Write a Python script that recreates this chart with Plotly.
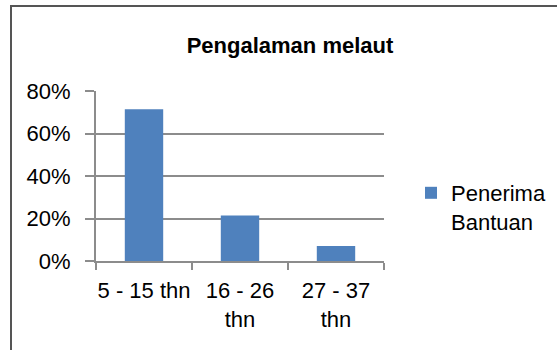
import plotly.graph_objects as go

categories = ["5 - 15 thn", "16 - 26<br>thn", "27 - 37<br>thn"]
values = [0.714, 0.214, 0.071]
series_name = "Penerima<br>Bantuan"
title_text = "Pengalaman melaut"
y_ticks = [0, 0.2, 0.4, 0.6, 0.8]

FONT = "Liberation Sans Narrow, Arial Narrow, Liberation Sans, Arial, sans-serif"
GRID = "#8c8c8c"
FS = 22

fig = go.Figure()
fig.add_trace(go.Bar(
    x=categories, y=values, name=series_name,
    marker=dict(color="#4f81bd", line=dict(width=0)),
    showlegend=True,
))

W, H = 557, 350
L, R, T, B = 96, 173, 91, 89
pw, ph = W - L - R, H - T - B

def px2x(px):
    return (px - L) / pw

def py2y(py):
    return (H - B - py) / ph

fig.update_layout(
    width=W, height=H,
    margin=dict(l=L, r=R, t=T, b=B, autoexpand=False),
    paper_bgcolor="white", plot_bgcolor="white",
    font=dict(family=FONT, size=FS, color="black"),
    bargap=0.6,
    title=dict(text="<b>" + title_text + "</b>", xref="container", yref="container",
               x=290 / W, y=1 - 45 / H, xanchor="center", yanchor="middle",
               font=dict(family=FONT, size=22, color="black")),
    showlegend=True,
    legend=dict(x=px2x(411), y=py2y(172), xanchor="left", yanchor="top",
                valign="top", font=dict(family=FONT, size=FS, color="black"),
                bgcolor="rgba(0,0,0,0)", itemwidth=30, tracegroupgap=0),
    xaxis=dict(showline=True, linecolor=GRID, linewidth=2, ticks="outside",
               tickson="boundaries", ticklen=7, tickwidth=2, tickcolor=GRID,
               tickangle=0, showgrid=False, ticklabelstandoff=9,
               tickfont=dict(family=FONT, size=FS, color="black"),
               fixedrange=True),
    yaxis=dict(range=[0, 0.8], tickvals=y_ticks, tickformat=".0%",
               showline=True, linecolor=GRID, linewidth=2, ticks="outside",
               ticklen=9, tickwidth=2, tickcolor=GRID, showgrid=True,
               gridcolor=GRID, gridwidth=2, zeroline=False, ticklabelstandoff=10,
               tickfont=dict(family=FONT, size=FS, color="black"), fixedrange=True),
    shapes=[dict(type="path", xref="paper", yref="paper",
                 path=f"M {px2x(11)},{py2y(352)} L {px2x(11)},{py2y(6)} L {px2x(560)},{py2y(6)}",
                 line=dict(color="#555555", width=2), layer="above")],
)

fig.write_html("out.html")
